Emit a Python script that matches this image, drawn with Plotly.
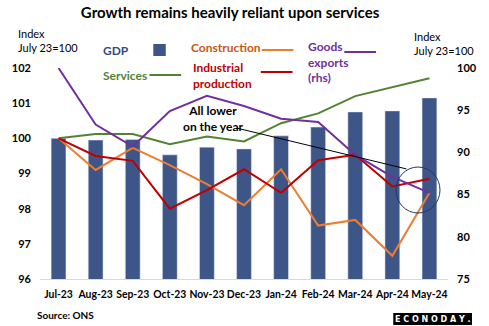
import plotly.graph_objects as go

# Monthly indices, July 2023 = 100
months = ["Jul-23", "Aug-23", "Sep-23", "Oct-23", "Nov-23", "Dec-23",
          "Jan-24", "Feb-24", "Mar-24", "Apr-24", "May-24"]
gdp = [100.0, 99.95, 99.97, 99.53, 99.75, 99.70, 100.07, 100.32, 100.75, 100.78, 101.15]
services = [100.0, 100.12, 100.12, 99.83, 100.05, 99.91, 100.43, 100.71, 101.2, 101.45, 101.71]
construction = [100.0, 99.1, 99.73, 99.24, 98.7, 98.1, 99.12, 97.52, 97.68, 96.66, 98.45]
industrial = [100.0, 99.5, 99.36, 98.0, 98.53, 99.12, 98.45, 99.38, 99.53, 98.63, 98.85]
goods_exports = [100.0, 93.3, 90.7, 94.9, 96.7, 95.5, 94.0, 93.6, 89.7, 87.1, 85.2]  # rhs

left_ticks = [96, 97, 98, 99, 100, 101, 102]
right_ticks = [75, 80, 85, 90, 95, 100]

NAVY = "#3E5588"
GREEN = "#548235"
ORANGE = "#ED7D31"
RED = "#C00000"
PURPLE = "#7030A0"
FONT = "Lato"

fig = go.Figure()
fig.add_trace(go.Bar(x=months, y=gdp, marker_color=NAVY, width=0.4, name="GDP"))
fig.add_trace(go.Scatter(x=months, y=services, mode="lines",
                         line=dict(color=GREEN, width=2), name="Services"))
fig.add_trace(go.Scatter(x=months, y=construction, mode="lines",
                         line=dict(color=ORANGE, width=2), name="Construction"))
fig.add_trace(go.Scatter(x=months, y=industrial, mode="lines",
                         line=dict(color=RED, width=2), name="Industrial production"))
fig.add_trace(go.Scatter(x=months, y=goods_exports, mode="lines", yaxis="y2",
                         line=dict(color=PURPLE, width=2), name="Goods exports (rhs)"))

W, H = 489, 326
L, R, T, B = 33, 31, 68, 47
pw, ph = W - L - R, H - T - B


def px(x):
    return (x - L) / pw


def py(y):
    return (H - B - y) / ph


fig.update_layout(
    width=W, height=H,
    margin=dict(l=L, r=R, t=T, b=B),
    paper_bgcolor="white", plot_bgcolor="white",
    showlegend=False,
    font=dict(family=FONT, size=12, color="black"),
    title=dict(text="<b>Growth remains heavily reliant upon services</b>",
               x=px(231), xref="paper", xanchor="center",
               y=1 - 13 / H, yanchor="middle",
               font=dict(family=FONT, size=15, color="black")),
    xaxis=dict(type="category", showgrid=False, showline=True,
               linecolor="#D9D9D9", linewidth=1, ticks="", tickangle=0,
               ticklabelstandoff=6,
               tickfont=dict(family=FONT, size=10.4, color="black", weight="bold")),
    yaxis=dict(range=[96, 102], tickvals=left_ticks, showgrid=False,
               zeroline=False, showline=False, ticks="", ticklabelstandoff=8,
               tickfont=dict(family=FONT, size=11, color="black", weight="bold")),
    yaxis2=dict(range=[75, 100], tickvals=right_ticks, overlaying="y", side="right",
                showgrid=False, zeroline=False, showline=False, ticks="",
                ticklabelstandoff=8,
                tickfont=dict(family=FONT, size=11, color="black", weight="bold")),
)

ann = []


def text(x, y, s, color="black", size=11, anchor="left", bold=True):
    ann.append(dict(x=px(x), y=py(y), xref="paper", yref="paper",
                    text=f"<b>{s}</b>" if bold else s, showarrow=False,
                    xanchor=anchor, yanchor="middle", align=anchor,
                    font=dict(family=FONT, size=size, color=color)))


# axis titles
text(8, 41, "Index<br>July 23=100", size=11, bold=False)
text(420, 44, "Index<br>July 23=100", size=11, bold=False)

# legend
text(97, 50, "GDP", color="#2F4A7F", size=12)
text(97, 75, "Services", color=GREEN, size=12)
text(188, 48, "Construction", color="#C65911", size=12)
text(190, 75, "Industrial<br>production", color=RED, size=12)
text(310, 62, "Goods<br>exports<br>(rhs)", color=PURPLE, size=12)

# annotation text
ann.append(dict(x=4.16, y=100.55, xref="x", yref="y",
                text="<b>All lower<br>on the year</b>", showarrow=False,
                xanchor="center", yanchor="middle", align="center",
                font=dict(family=FONT, size=12, color="black")))

# footer
text(28, 315, "Source: ONS", size=10)
ann.append(dict(x=px(442), y=py(319), xref="paper", yref="paper",
                text="<b>E C O N O D A Y .</b>", showarrow=False,
                xanchor="center", yanchor="middle",
                font=dict(family="DejaVu Sans", size=8, color="white")))

fig.update_layout(annotations=ann)

shapes = []


def seg(x0, x1, y, color):
    shapes.append(dict(type="line", xref="paper", yref="paper",
                       x0=px(x0), x1=px(x1), y0=py(y), y1=py(y),
                       line=dict(color=color, width=2)))


seg(147, 180, 75, GREEN)
seg(264, 297, 50, ORANGE)
seg(263, 296, 72, RED)
seg(350, 383, 52, PURPLE)
shapes.append(dict(type="rect", xref="paper", yref="paper",
                   x0=px(151), x1=px(164), y0=py(56), y1=py(44),
                   fillcolor=NAVY, line=dict(width=0)))
# pointer line and circle
shapes.append(dict(type="line", xref="x", yref="y",
                   x0=4.81, y0=100.29, x1=9.38, y1=99.13,
                   line=dict(color="black", width=1)))
shapes.append(dict(type="circle", xref="x", yref="y",
                   x0=9.69 - 0.594, x1=9.69 + 0.594, y0=98.53 - 0.654, y1=98.53 + 0.654,
                   line=dict(color="#1F3864", width=1)))
# logo box
shapes.append(dict(type="rect", xref="paper", yref="paper",
                   x0=px(401), x1=px(483), y0=py(325), y1=py(313),
                   fillcolor="black", line=dict(width=0)))
fig.update_layout(shapes=shapes)

fig.write_html("out.html")
